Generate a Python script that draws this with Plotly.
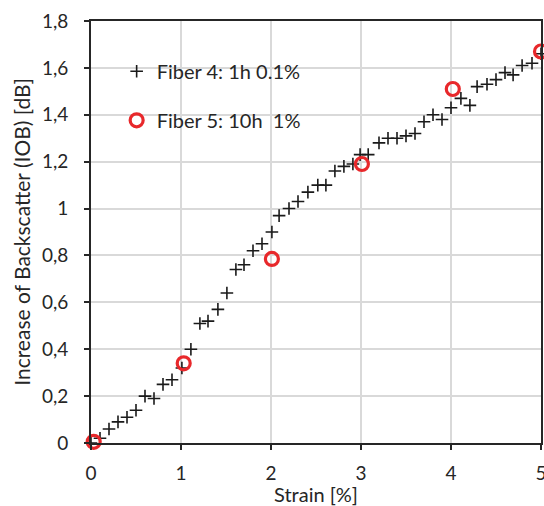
import plotly.graph_objects as go

# Fiber 4 : 1h 0.1%  (croix noires)
strain_f4 = [0.0, 0.1, 0.2, 0.3, 0.4, 0.5, 0.6, 0.7, 0.8, 0.9,
             1.01, 1.11, 1.21, 1.3, 1.41, 1.51, 1.61, 1.7, 1.8, 1.9,
             2.01, 2.09, 2.2, 2.3, 2.41, 2.52, 2.61, 2.71, 2.81, 2.91,
             2.99, 3.08, 3.2, 3.3, 3.4, 3.5, 3.6, 3.7, 3.8, 3.9,
             4.0, 4.11, 4.21, 4.29, 4.4, 4.5, 4.6, 4.69, 4.79, 4.9, 5.0]
iob_f4 = [0.0, 0.02, 0.06, 0.09, 0.11, 0.14, 0.20, 0.19, 0.25, 0.27,
          0.32, 0.40, 0.51, 0.52, 0.57, 0.64, 0.74, 0.76, 0.82, 0.85,
          0.90, 0.97, 1.00, 1.03, 1.07, 1.10, 1.10, 1.16, 1.18, 1.19,
          1.23, 1.23, 1.28, 1.30, 1.30, 1.31, 1.32, 1.37, 1.40, 1.38,
          1.43, 1.47, 1.44, 1.52, 1.53, 1.55, 1.58, 1.57, 1.61, 1.62, 1.66]

# Fiber 5 : 10h 1%  (cercles rouges)
strain_f5 = [0.03, 1.03, 2.01, 3.01, 4.02, 5.0]
iob_f5 = [0.005, 0.34, 0.785, 1.19, 1.51, 1.67]

x_ticks = [0, 1, 2, 3, 4, 5]
y_ticks = [0, 0.2, 0.4, 0.6, 0.8, 1.0, 1.2, 1.4, 1.6, 1.8]

FONT = 'Lato'
TXT = '#262626'
GRID = '#d9d9d9'

fig = go.Figure()

fig.add_trace(go.Scatter(
    x=strain_f4, y=iob_f4,
    mode='markers',
    name='Fiber 4: 1h 0.1%',
    legendgroup='f4',
    marker=dict(symbol='cross-thin', size=9, line=dict(color='#1a1a1a', width=1.6)),
    cliponaxis=False,
))

fig.add_trace(go.Scatter(
    x=strain_f5, y=iob_f5,
    mode='markers',
    name='Fiber 5: 10h  1%',
    legendgroup='f5',
    marker=dict(symbol='circle-open', size=13, color='#e8282b', line=dict(width=3.2)),
    cliponaxis=False,
))

axis_common = dict(
    showgrid=True, gridcolor=GRID, gridwidth=1.5,
    showline=True, linecolor=TXT, linewidth=1.8, mirror=True,
    ticks='outside', ticklen=5, tickwidth=1.5, tickcolor=TXT,
    tickfont=dict(family=FONT, size=19, color=TXT),
    ticklabeloverflow='allow',
    zeroline=False,
    automargin=False,
)

fig.update_layout(
    width=544, height=506,
    margin=dict(l=91, r=3, t=21, b=63),
    plot_bgcolor='white', paper_bgcolor='white',
    separators=',.',
    font=dict(family=FONT, color=TXT),
    xaxis=dict(
        range=[0, 5], tickvals=x_ticks, ticklabelstandoff=7,
        title=dict(text='Strain [%]', font=dict(family=FONT, size=20), standoff=2),
        **axis_common,
    ),
    yaxis=dict(
        range=[0, 1.8], tickvals=y_ticks, ticklabelstandoff=12,
        title=dict(text='Increase of Backscatter (IOB) [dB]', font=dict(family=FONT, size=21), standoff=6),
        **axis_common,
    ),
    legend=dict(
        x=0.057, y=0.927, xanchor='left', yanchor='top',
        bgcolor='rgba(0,0,0,0)',
        font=dict(family=FONT, size=20, color=TXT),
        tracegroupgap=20,
        traceorder='grouped',
    ),
)

# la page est photographiée sans marge autour du graphique
fig.write_html("out.html", config={'displayModeBar': False},
               post_script="document.body.style.margin='0px';")
